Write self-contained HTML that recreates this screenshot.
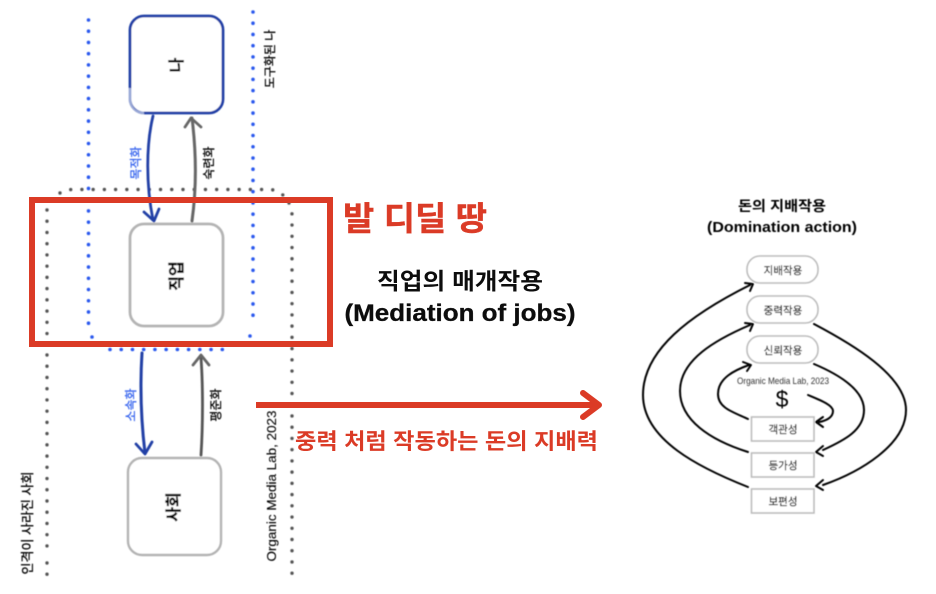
<!DOCTYPE html>
<html>
<head>
<meta charset="utf-8">
<style>
html,body{margin:0;padding:0;background:#fff;width:936px;height:594px;overflow:hidden}
svg{display:block}
text{font-family:"Liberation Sans","Noto Sans CJK KR",sans-serif}
</style>
</head>
<body>
<svg width="936" height="594" viewBox="0 0 936 594" xmlns="http://www.w3.org/2000/svg">
<defs>
<filter id="b" x="-5%" y="-5%" width="110%" height="110%"><feGaussianBlur stdDeviation="0.45"/></filter>
<filter id="b2" x="-5%" y="-5%" width="110%" height="110%"><feGaussianBlur stdDeviation="0.3"/></filter>
</defs>

<g filter="url(#b)">
<!-- gray dotted frame -->
<g fill="none" stroke="#555" stroke-width="3.4" stroke-linecap="round" stroke-dasharray="0 11.23">
<path d="M60 193 L71 189.5 L272 189.5 L283 195"/>
<path d="M47 210 L47 335"/>
<path d="M47 355 L47 547"/>
<path d="M47 563 L47 575"/>
<path d="M289 203 L292 214 L292 575"/>
</g>
<!-- blue dotted frame -->
<g fill="none" stroke="#2a58ee" stroke-width="3.6" stroke-linecap="round" stroke-dasharray="0 11.23">
<path d="M88.5 20 L88.5 327"/>
<path d="M110 349.5 L233 349.5"/>
<path d="M253 12 L253 326"/>
</g>
<g fill="#2a58ee">
<circle cx="92" cy="337" r="1.8"/>
<circle cx="250" cy="336" r="1.8"/>
</g>

<!-- boxes -->
<rect x="130" y="16" width="93" height="97" rx="14" fill="#fff" stroke="#2040a6" stroke-width="2.8"/>
<path d="M130 88 L130 99 Q130 113 144 113" fill="none" stroke="#fff" stroke-width="3" opacity=".55"/>
<rect x="130" y="224" width="93" height="102" rx="14" fill="#fff" stroke="#b4b4b4" stroke-width="2.8"/>
<rect x="128" y="458" width="93" height="97" rx="14" fill="#fff" stroke="#b4b4b4" stroke-width="2.4"/>

<!-- connectors -->
<g fill="none" stroke-linecap="round" stroke-linejoin="round">
<path d="M153 116 C146 145 146 185 153 220" stroke="#2040a6" stroke-width="2.8"/>
<path d="M144 212 L154 221 L159 209" stroke="#2040a6" stroke-width="2.8"/>
<path d="M192 221 C197 185 196 150 192 118" stroke="#666" stroke-width="3"/>
<path d="M185 127 L191 118 L201 127" stroke="#666" stroke-width="2.8"/>
<path d="M142 353 C140 385 141 420 145 453" stroke="#2040a6" stroke-width="3"/>
<path d="M136 444 L145 454 L152 442" stroke="#2040a6" stroke-width="2.8"/>
<path d="M201 455 C203 425 203 385 201 358" stroke="#555" stroke-width="2.8"/>
<path d="M193 365 L201 355 L209 365" stroke="#666" stroke-width="2.8"/>
</g>

<!-- rotated labels -->
<g fill="#000" stroke="#000" stroke-width="0.3" text-anchor="middle">
<text transform="translate(182 65) rotate(-90)" font-size="16" font-weight="700">나</text>
<text transform="translate(182 276) rotate(-90)" font-size="16" font-weight="700">직업</text>
<text transform="translate(179 507) rotate(-90)" font-size="16" font-weight="700">사회</text>
<text transform="translate(274 59) rotate(-90)" font-size="12">도구화된 나</text>
<text transform="translate(140 163) rotate(-90)" font-size="12" fill="#3563ee" stroke="#3563ee">목적화</text>
<text transform="translate(213 163) rotate(-90)" font-size="12">숙련화</text>
<text transform="translate(135 405) rotate(-90)" font-size="12" fill="#3563ee" stroke="#3563ee">소속화</text>
<text transform="translate(220 405) rotate(-90)" font-size="12">평준화</text>
<text transform="translate(32 523) rotate(-90)" font-size="13">인격이 사라진 사회</text>
<text transform="translate(276 486) rotate(-90)" font-size="13" stroke-width="0.1" textLength="151" lengthAdjust="spacingAndGlyphs">Organic Media Lab, 2023</text>
</g>
</g>

<!-- red annotations -->
<g filter="url(#b2)">
<rect x="32" y="200" width="298" height="144" fill="none" stroke="#db3a26" stroke-width="6"/>
<path d="M256 405 L597 405" stroke="#db3a26" stroke-width="6" fill="none"/>
<path d="M583 393 L599 405 L583 417" stroke="#db3a26" stroke-width="6" fill="none" stroke-linejoin="round" stroke-linecap="round"/>
<text x="343" y="230" font-size="33" font-weight="700" fill="#db3a26" stroke="#db3a26" stroke-width="0.4" textLength="144" lengthAdjust="spacingAndGlyphs">발 디딜 땅</text>
<text x="460" y="289" font-size="23" font-weight="700" fill="#111" text-anchor="middle" textLength="166" lengthAdjust="spacingAndGlyphs">직업의 매개작용</text>
<text x="460" y="321" font-size="24.5" font-weight="700" fill="#111" stroke="#111" stroke-width="0.3" text-anchor="middle" textLength="231" lengthAdjust="spacingAndGlyphs">(Mediation of jobs)</text>
<text x="295" y="449" font-size="22" font-weight="700" fill="#db3a26" textLength="303" lengthAdjust="spacingAndGlyphs">중력 처럼 작동하는 돈의 지배력</text>
</g>

<!-- right diagram -->
<g filter="url(#b)">
<text x="782" y="211" font-size="14" font-weight="700" fill="#000" text-anchor="middle" textLength="88" lengthAdjust="spacingAndGlyphs">돈의 지배작용</text>
<text x="782" y="232" font-size="14.5" font-weight="700" fill="#000" text-anchor="middle" textLength="150" lengthAdjust="spacingAndGlyphs">(Domination action)</text>

<g fill="#fff" stroke="#bcbcbc" stroke-width="1.6">
<rect x="747" y="256" width="71" height="27" rx="13"/>
<rect x="747" y="296" width="71" height="27" rx="13"/>
<rect x="747" y="336" width="71" height="27" rx="13"/>
<rect x="751.5" y="417" width="62.5" height="24"/>
<rect x="751.5" y="453" width="62.5" height="24"/>
<rect x="751.5" y="489" width="62.5" height="24"/>
</g>
<g font-size="10.5" fill="#000" stroke="#000" stroke-width="0.2" text-anchor="middle">
<text x="783" y="274">지배작용</text>
<text x="783" y="314">중력작용</text>
<text x="783" y="354">신뢰작용</text>
<text x="783" y="433">객관성</text>
<text x="783" y="469">등가성</text>
<text x="783" y="505">보편성</text>
</g>
<text x="783" y="384" font-size="9.5" fill="#333" text-anchor="middle" textLength="92" lengthAdjust="spacingAndGlyphs">Organic Media Lab, 2023</text>
<text x="782" y="407" font-size="23" fill="#000" text-anchor="middle">$</text>

<g fill="none" stroke="#000" stroke-width="2" stroke-linecap="round" stroke-linejoin="round">
<!-- left outer -->
<path d="M748 487 C700 468 643 440 643 395 C643 350 690 315 750 285"/>
<path d="M745 283 L753 284 L750 291"/>
<!-- left middle -->
<path d="M748 452 C710 440 680 420 680 391 C680 360 715 340 750 325"/>
<path d="M745 323 L753 324 L750 331"/>
<!-- left inner -->
<path d="M748 419 C733 412 718 408 718 394 C718 378 735 370 749 365"/>
<path d="M743 362 L751 365 L747 371"/>
<!-- right outer -->
<path d="M814 324 C850 343 906 375 906 410 C906 445 860 472 823 485"/>
<path d="M823 480 L816 486 L823 490"/>
<!-- right middle -->
<path d="M814 364 C840 375 864 390 864 410 C864 430 845 440 823 450"/>
<path d="M823 446 L816 452 L823 456"/>
<!-- $ arrow -->
<path d="M808 395 C820 400 833 405 833 411 C833 418 825 421 819 422"/>
<path d="M823 417 L816 422 L823 427"/>
</g>
</g>
</svg>
</body>
</html>
